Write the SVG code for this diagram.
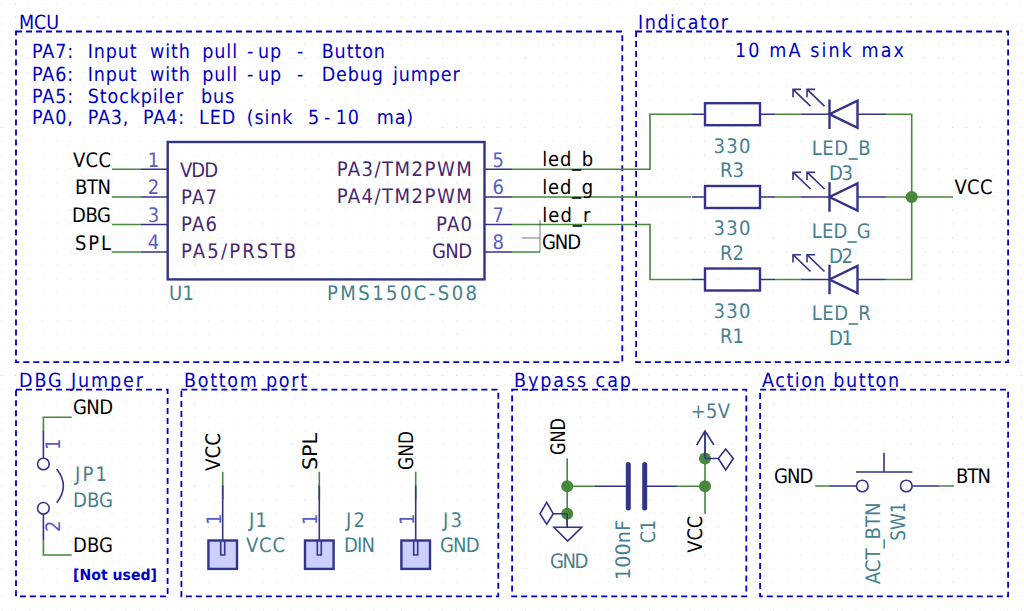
<svg xmlns="http://www.w3.org/2000/svg" width="1024" height="611" viewBox="0 0 1024 611">
<style>
text{font-family:"DejaVu Sans","Liberation Sans",sans-serif;font-stretch:condensed;font-size:20px;text-rendering:geometricPrecision}
.n{fill:#0000c2;font-size:19.5px}.l{fill:#000}.p{fill:#45266f}.m{fill:#5a5ac4}.r{fill:#45808e}
.t{letter-spacing:.9px}
.f{fill:none;stroke:#0000c2;stroke-width:1.8;stroke-dasharray:6 4}
.w{fill:none;stroke:#47883c;stroke-width:1.6}
.j{fill:#47883c}
.s{fill:none;stroke:#33338a;stroke-width:1.6}
.b{fill:none;stroke:#33338a;stroke-width:2.4}
.g{fill:none;stroke:#555;stroke-width:.8}
.k{fill:#ccd0ff;stroke:#33338a;stroke-width:2.4}
</style>
<defs>
<pattern id="grid" x="2.22" y="3.94" width="13.78" height="13.78" patternUnits="userSpaceOnUse"><rect x="13" y="13" width="1" height="1" fill="#c4c4c4"/></pattern>
<g id="led"><path class="s" d="M0 0H28M56 0H84"/><path class="b" d="M28-14.8V14.8M56-13.6V13.6L28 0Z"/><path class="s" d="M9-8 -8.5-24.8M-8.5-17V-24.8H-0.5M23-8 5.5-24.8M5.5-17V-24.8H13.5"/></g>
<g id="res"><path class="s" d="M0 0H13M68 0H83"/><rect class="b" x="13" y="-11" width="55" height="22"/></g>
<g id="conn"><path class="s" d="M0 0V69.500"/><rect class="k" x="-14.300" y="55" width="28.600" height="28.400"/><path class="s" d="M-2 55V69.500H2V55"/></g>
</defs>
<rect width="1024" height="611" fill="#fff"/>
<rect width="1024" height="611" fill="url(#grid)"/>
<g id="frames">
<rect class="f" x="16" y="31.500" width="606.300" height="330.700"/>
<rect class="f" x="636.100" y="31.500" width="372" height="330.700"/>
<rect class="f" x="16" y="389.700" width="151.600" height="206.700"/>
<rect class="f" x="181.400" y="389.700" width="316.900" height="206.700"/>
<rect class="f" x="512.100" y="389.700" width="234.200" height="206.700"/>
<rect class="f" x="760.100" y="389.700" width="248" height="206.700"/>
<text class="n" x="19" y="29" textLength="40">MCU</text>
<text class="n" x="638" y="29" textLength="90">Indicator</text>
<text class="n" x="19" y="387" textLength="124">DBG Jumper</text>
<text class="n" x="184" y="387" textLength="123">Bottom port</text>
<text class="n" x="514" y="387" textLength="117">Bypass cap</text>
<text class="n" x="762" y="387" textLength="137">Action button</text>
<text class="n t" x="32" y="58.300">PA7: <tspan x="87.700">Input </tspan><tspan x="150">with </tspan><tspan x="202.300">pull</tspan><tspan x="247">-</tspan><tspan x="258">up </tspan><tspan x="297">- </tspan><tspan x="321.700">Button</tspan></text>
<text class="n t" x="32" y="80.500">PA6: <tspan x="87.700">Input </tspan><tspan x="150">with </tspan><tspan x="202.300">pull</tspan><tspan x="247">-</tspan><tspan x="258">up </tspan><tspan x="297">- </tspan><tspan x="321.700">Debug </tspan><tspan x="393">jumper</tspan></text>
<text class="n t" x="32" y="102.500">PA5: <tspan x="87.700">Stockpiler </tspan><tspan x="201">bus</tspan></text>
<text class="n t" x="32" y="124.300">PA0, <tspan x="87.700">PA3, </tspan><tspan x="143">PA4: </tspan><tspan x="199">LED </tspan><tspan x="246.700">(sink </tspan><tspan x="308">5</tspan><tspan x="324">-</tspan><tspan x="335.700">10 </tspan><tspan x="376.700">ma)</tspan></text>
<text class="n" x="735" y="56.700" textLength="169">10 mA sink max</text>
<text class="n" x="73" y="580" textLength="84" lengthAdjust="spacingAndGlyphs" style="font-size:15px;font-weight:bold">[Not used]</text>
</g>
<g id="connectors">
<path class="w" d="M112 169.300H141M112 197H141M112 224.500H141M112 252H141"/>
<path class="w" d="M512 169.300H650V114.200H692M512 197H691M512 224.500H650V279.500H692M512 252H540"/>
<path class="w" d="M775 114.200H802M775 197H802M775 279.500H802M885 114.200H911.700V279.500H885M885 197H953"/>
<path class="w" d="M71.700 417.300H43.400V431M43.400 540V555H71.700"/>
<path class="w" d="M222.700 471.700V499.300M319.300 471.700V499.300M415.700 471.700V499.300"/>
<path class="w" d="M567.200 458.500V527M567.200 486.200H594.800M677.500 486.200H705M705 431V513.800"/>
<path class="w" d="M815.200 486H828.500M939 486H954"/>
<circle class="j" cx="911.700" cy="197" r="6"/>
<circle class="j" cx="567.200" cy="486.200" r="6"/>
<circle class="j" cx="567.200" cy="513.800" r="6"/>
<circle class="j" cx="705" cy="486.200" r="6"/>
<circle class="j" cx="705" cy="458.500" r="6"/>
</g>
<g id="U1">
<path class="g" d="M540 220V252M521.700 238H540"/>
<path class="s" d="M141 169.300H168M141 197H168M141 224.500H168M141 252H168M484.500 169.300H512M484.500 197H512M484.500 224.500H512M484.500 252H512"/>
<rect x="167.700" y="142" width="316.800" height="137.400" class="b"/>
<text class="l" x="73" y="166.700" textLength="38">VCC</text>
<text class="l" x="75" y="194.300" textLength="36">BTN</text>
<text class="l" x="72" y="221.700" textLength="39">DBG</text>
<text class="l" x="75" y="249.700" textLength="36">SPL</text>
<text class="m" x="153.500" y="166.700" text-anchor="middle">1</text>
<text class="m" x="153.500" y="194" text-anchor="middle">2</text>
<text class="m" x="153.500" y="221.700" text-anchor="middle">3</text>
<text class="m" x="153.500" y="249" text-anchor="middle">4</text>
<text class="m" x="498.300" y="166.700" text-anchor="middle">5</text>
<text class="m" x="498.300" y="194.300" text-anchor="middle">6</text>
<text class="m" x="498.300" y="221.700" text-anchor="middle">7</text>
<text class="m" x="498.300" y="249" text-anchor="middle">8</text>
<text class="p" x="180" y="176.700" textLength="38">VDD</text>
<text class="p" x="181" y="203.700" textLength="36">PA7</text>
<text class="p" x="181" y="230.700" textLength="36">PA6</text>
<text class="p" x="181" y="258.300" textLength="115">PA5/PRSTB</text>
<text class="p" x="336.700" y="175.700" textLength="135">PA3/TM2PWM</text>
<text class="p" x="336.700" y="203.300" textLength="135">PA4/TM2PWM</text>
<text class="p" x="436" y="231" textLength="36">PA0</text>
<text class="p" x="432" y="258.300" textLength="40">GND</text>
<text class="r" x="169" y="299.500" textLength="25">U1</text>
<text class="r" x="327" y="300" textLength="150">PMS150C-S08</text>
<text class="l" x="542.300" y="166" textLength="51">led_b</text>
<text class="l" x="542.300" y="194" textLength="51">led_g</text>
<text class="l" x="542.300" y="221.700" textLength="48">led_r</text>
<text class="l" x="542" y="249.300" textLength="39">GND</text>
</g>
<g id="R3"><use href="#res" x="692" y="114.200"/><text class="r" x="713.500" y="152.700" textLength="37">330</text><text class="r" x="720" y="177.300" textLength="24">R3</text></g>
<g id="R2"><use href="#res" x="692" y="197"/><text class="r" x="713.500" y="235.300" textLength="37">330</text><text class="r" x="720" y="260" textLength="24">R2</text></g>
<g id="R1"><use href="#res" x="692" y="279.500"/><text class="r" x="713.500" y="318.300" textLength="37">330</text><text class="r" x="720" y="342.700" textLength="24">R1</text></g>
<g id="D3"><use href="#led" x="801.500" y="114.200"/><text class="r" x="811.700" y="155" textLength="59">LED_B</text><text class="r" x="829" y="180" textLength="24">D3</text></g>
<g id="D2"><use href="#led" x="801.500" y="197"/><text class="r" x="811.700" y="237.700" textLength="59">LED_G</text><text class="r" x="829" y="262.700" textLength="24">D2</text></g>
<g id="D1"><use href="#led" x="801.500" y="279.500"/><text class="r" x="811.700" y="320" textLength="59">LED_R</text><text class="r" x="829" y="345.300" textLength="24">D1</text></g>
<g id="VCC-net"><text class="l" x="954.500" y="194" textLength="38">VCC</text></g>
<g id="JP1">
<path class="s" d="M43.400 431V458M43.400 514.300V540"/>
<circle class="s" cx="43.400" cy="464" r="5.800"/><circle class="s" cx="43.400" cy="508.300" r="5.800"/>
<path class="s" d="M56.700 469Q70 486 56.700 502.700"/>
<text class="m" transform="translate(60,450) rotate(-90)">1</text>
<text class="m" transform="translate(60,532) rotate(-90)">2</text>
<text class="l" x="73" y="414.300" textLength="40">GND</text>
<text class="l" x="73" y="551.700" textLength="40">DBG</text>
<text class="r" x="75" y="481" textLength="32">JP1</text>
<text class="r" x="73" y="507.300" textLength="40">DBG</text>
</g>
<g id="J1"><use href="#conn" x="222.700" y="485.500"/>
<text class="l" transform="translate(220,471) rotate(-90)" textLength="38" lengthAdjust="spacingAndGlyphs">VCC</text>
<text class="m" transform="translate(220.500,525) rotate(-90)">1</text>
<text class="r" x="249" y="527.300" textLength="18">J1</text><text class="r" x="246" y="552.300" textLength="39">VCC</text></g>
<g id="J2"><use href="#conn" x="319.300" y="485.500"/>
<text class="l" transform="translate(316.700,470) rotate(-90)" textLength="37" lengthAdjust="spacingAndGlyphs">SPL</text>
<text class="m" transform="translate(317,525) rotate(-90)">1</text>
<text class="r" x="346" y="527.300" textLength="19">J2</text><text class="r" x="344" y="552.300" textLength="31">DIN</text></g>
<g id="J3"><use href="#conn" x="415.700" y="485.500"/>
<text class="l" transform="translate(413.300,470) rotate(-90)" textLength="39" lengthAdjust="spacingAndGlyphs">GND</text>
<text class="m" transform="translate(413.500,525) rotate(-90)">1</text>
<text class="r" x="443" y="527.300" textLength="19">J3</text><text class="r" x="440" y="552.300" textLength="39.500">GND</text></g>
<g id="C1">
<path class="s" d="M594.800 486.200H628M645 486.200H677.500"/>
<path fill="none" stroke="#33338a" stroke-width="5" stroke-linecap="round" d="M628.300 464.500V508M644.700 464.500V508"/>
<text class="l" transform="translate(565,455) rotate(-90)" textLength="37" lengthAdjust="spacingAndGlyphs">GND</text>
<text class="r" transform="translate(630,580) rotate(-90)" textLength="60" lengthAdjust="spacingAndGlyphs">100nF</text>
<text class="r" transform="translate(655,543.300) rotate(-90)" textLength="23.300" lengthAdjust="spacingAndGlyphs">C1</text>
<text class="l" transform="translate(701.700,552.700) rotate(-90)" textLength="37" lengthAdjust="spacingAndGlyphs">VCC</text>
</g>
<g id="PWR">
<path class="s" d="M705 458.500V431M696.700 445 705 431 714 445M705 458.500H718.300L725.700 449 733.300 458.500 725.700 470 718.300 458.500"/>
<path class="s" d="M567.200 513.800V527.300M554 527.300H581.700L567.700 541ZM567.200 513.800H553.300L546.700 502.300 540 513.800 546.700 524.300 553.300 513.800"/>
<text class="r" x="550" y="568.300" textLength="38.300">GND</text>
<text class="r" x="690.700" y="418.300" textLength="39.300">+5V</text>
</g>
<g id="SW1">
<path class="s" d="M828.500 486H856.500M912.200 486H939M856 472H912.300M884 472V452.700"/>
<circle class="s" cx="862.300" cy="486" r="5.800"/><circle class="s" cx="906.300" cy="486" r="5.800"/>
<text class="l" x="774" y="483.300" textLength="39.300">GND</text>
<text class="l" x="956" y="483.300" textLength="35">BTN</text>
<text class="r" transform="translate(880,584.300) rotate(-90)" textLength="82" lengthAdjust="spacingAndGlyphs">ACT_BTN</text>
<text class="r" transform="translate(905,540.700) rotate(-90)" textLength="38.400" lengthAdjust="spacingAndGlyphs">SW1</text>
</g>
</svg>
